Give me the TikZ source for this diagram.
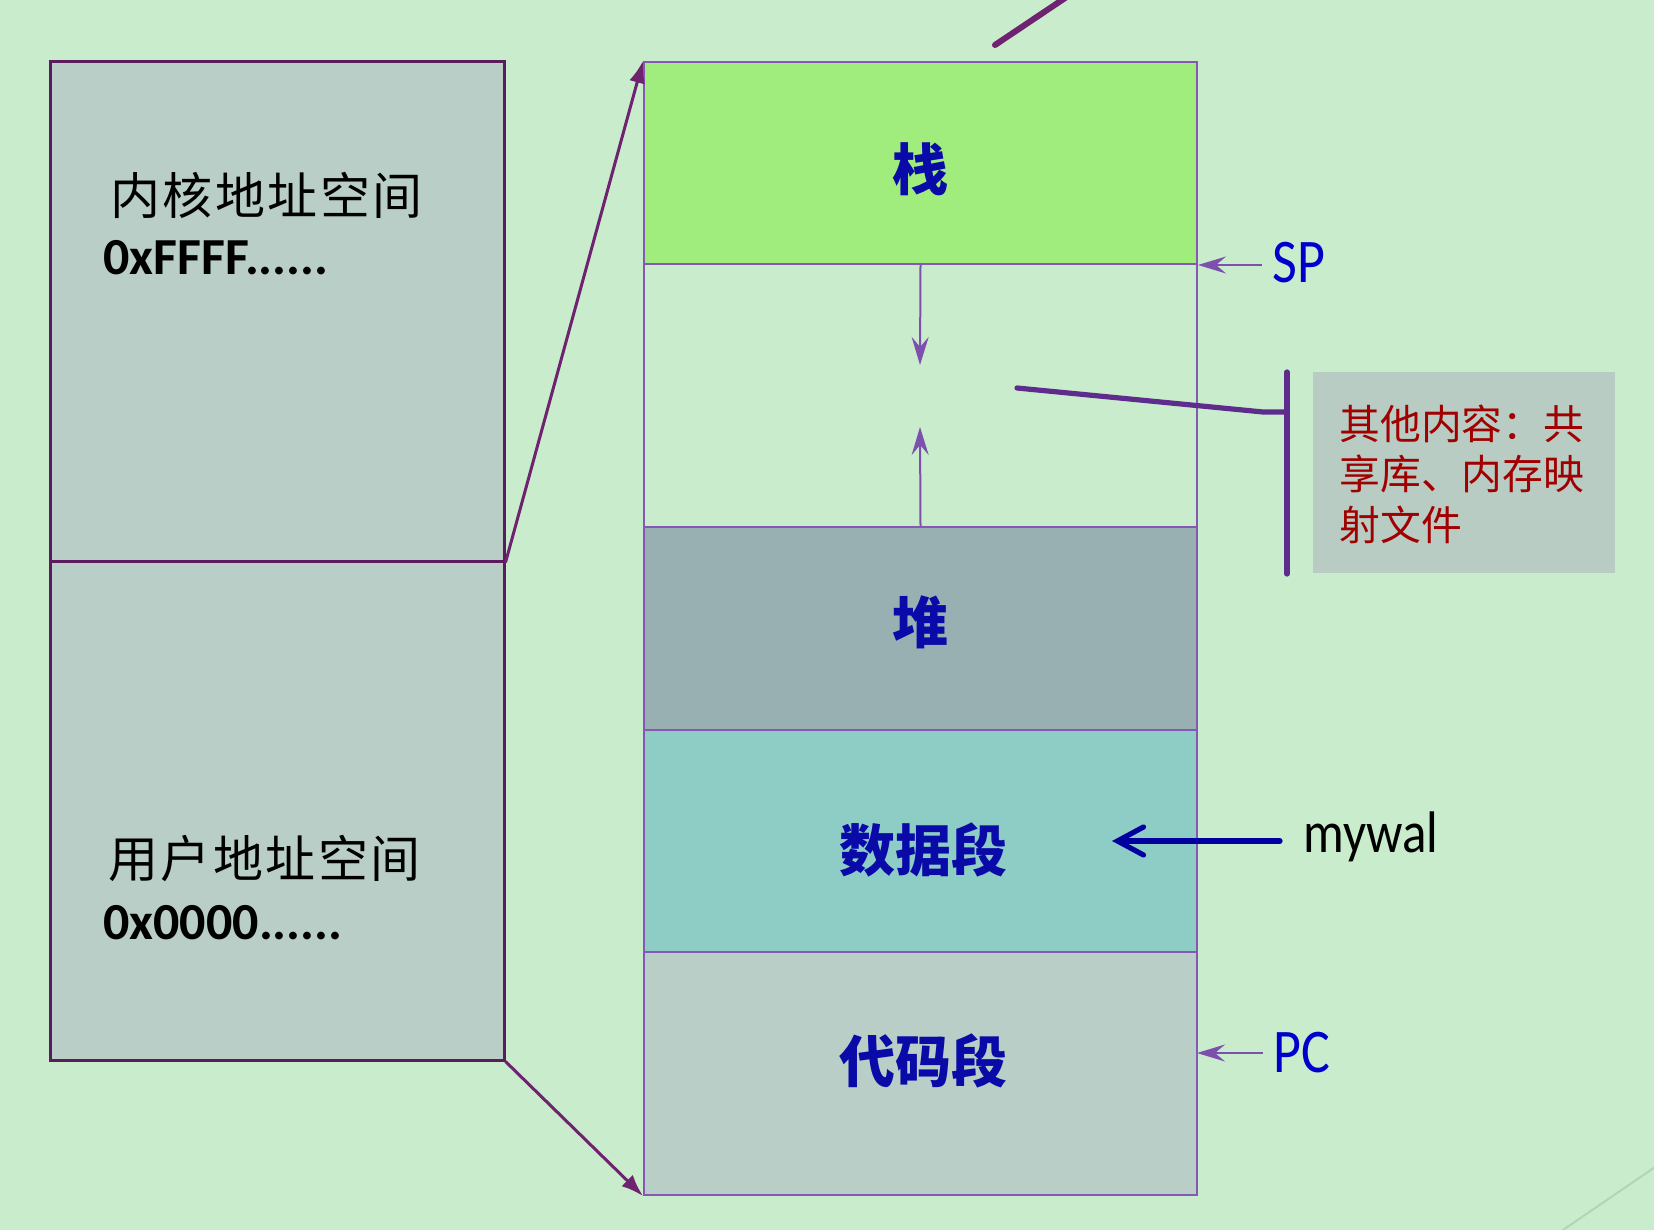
\documentclass[tikz,border=0pt]{standalone}
\usepackage{fontspec}
\setmainfont{Carlito}
\newfontfamily\cjk{Noto Sans CJK SC}
\newfontfamily\cjkwide[LetterSpace=5]{Noto Sans CJK SC}
\usetikzlibrary{arrows.meta,fit}
\definecolor{bg}{HTML}{C8ECCC}
\definecolor{leftfill}{HTML}{B8CEC6}
\definecolor{leftdraw}{HTML}{5A1C5C}
\definecolor{stackc}{HTML}{A0EC7C}
\definecolor{heapc}{HTML}{98B0B2}
\definecolor{datac}{HTML}{8ECCC6}
\definecolor{codec}{HTML}{B8CEC6}
\definecolor{coldraw}{HTML}{8458B4}
\definecolor{smallarr}{HTML}{7E50AE}
\definecolor{thickc}{HTML}{5E2C8C}
\definecolor{connc}{HTML}{6E2270}
\definecolor{segblue}{HTML}{0A0AA8}
\definecolor{regblue}{HTML}{0000CC}
\definecolor{mwblue}{HTML}{0000A0}
\definecolor{redc}{HTML}{A00000}
\definecolor{grayboxc}{HTML}{B8CCC4}
\definecolor{faintc}{HTML}{B0D6B4}
\begin{document}
\begin{tikzpicture}[x=0.5pt,y=-0.5pt,
  lbox/.style={draw=leftdraw,fill=leftfill,line width=1.5pt,inner sep=0pt},
  seg/.style={draw=coldraw,line width=1pt,inner sep=0pt},
  segtxt/.style={font=\cjk\bfseries\fontsize{28}{32}\selectfont,text=segblue,inner sep=0pt},
  lefttxt/.style={font=\cjkwide\fontsize{25}{30}\selectfont,text=black,inner sep=0pt,anchor=west},
  addrtxt/.style={font=\bfseries\fontsize{26}{30}\selectfont,text=black,inner sep=0pt,anchor=west},
  regtxt/.style={font=\fontsize{27}{32}\selectfont,text=regblue,inner sep=0pt,anchor=west},
  smallarrow/.style={draw=smallarr,line width=1pt,-{Stealth[length=14pt,width=8.5pt,inset=5pt]}},
  conn/.style={draw=connc,line width=1.5pt,-{Latex[length=11pt,width=8pt]}},
  thick/.style={draw=thickc,line width=2.6pt,line cap=round,line join=round}]
\fill[bg] (0,0) rectangle (1654,1230);
\useasboundingbox (0,0) rectangle (1654,1230);
\clip (0,0) rectangle (1654,1230);

% decorative lines
\coordinate (t1) at (995,45);
\coordinate (t2) at (1080,-12);
\draw[draw=connc,line width=3pt,line cap=round] (t1) -- (t2);
\coordinate (f1) at (1560,1232);
\coordinate (f2) at (1680,1150);
\draw[draw=faintc,line width=1pt] (f1) -- (f2);

% left box
\node[lbox,fit={(50,62) (504,561)}] (kernel) {};
\node[lbox,fit={(50,561) (504,1060)}] (user) {};
\node[lefttxt] (ktxt) at (110,195) {内核地址空间};
\node[addrtxt] (kaddr) at (103,258) {0xFFFF......};
\node[lefttxt] (utxt) at (108,858) {用户地址空间};
\node[addrtxt] (uaddr) at (103,923) {0x0000......};

% right column
\node[seg,fill=stackc,fit={(644,62) (1197,264)}] (stack) {};
\node[seg,fit={(644,264) (1197,527)}] (free) {};
\node[seg,fill=heapc,fit={(644,527) (1197,730)}] (heap) {};
\node[seg,fill=datac,fit={(644,730) (1197,952)}] (data) {};
\node[seg,fill=codec,fit={(644,952) (1197,1195)}] (code) {};

\node[segtxt] (stacktxt) at (920,169) {栈};
\node[segtxt] (heaptxt) at (920,622) {堆};
\node[segtxt] (datatxt) at (923,850) {数据段};
\node[segtxt] (codetxt) at (923,1061) {代码段};

% connectors from left box to column
\draw[conn] (kernel.south east) -- (stack.north west);
\draw[conn] (user.south east) -- (code.south west);

% growth arrows
\coordinate (dtip) at (920,365);
\coordinate (utip) at (920,427);
\draw[smallarrow] (stack.south) -- (dtip);
\draw[smallarrow] (heap.north) -- (utip);

% SP and PC
\node[regtxt] (sp) at (1272,263) {\scalebox{1}[1.15]{SP}};
\node[regtxt] (pc) at (1273,1053) {\scalebox{1}[1.15]{PC}};
\draw[smallarrow] ([xshift=-5pt]sp.west |- stack.south east) -- (stack.south east);
\coordinate (pcend) at (1197,1053);
\draw[smallarrow] ([xshift=-5pt]pc.west) -- (pcend);

% mywal
\node[font=\fontsize{25.5}{30}\selectfont,text=black,inner sep=0pt,anchor=west] (mywal) at (1303,837) {\scalebox{1}[1.15]{mywal}};
\coordinate (mwstart) at (1280,841);
\coordinate (mwend) at (1112,841);
\draw[draw=mwblue,line width=2.6pt,line cap=round,-{Straight Barb[length=13pt,width=14pt,line cap=round]}] (mwstart) -- (mwend);

% other content box
\node[fill=grayboxc,inner sep=0pt,minimum width=151pt,minimum height=100.5pt,anchor=north west] (other) at (1313,372) {};
\node[text=redc,font=\cjk\fontsize{20.4}{25.3}\selectfont,align=left,text width=124pt,inner sep=0pt,anchor=west] (othertxt) at (1339,474) {其他内容：共\\享库、内存映\\射文件};

\coordinate (bartop) at (1287,372);
\coordinate (barbot) at (1287,574);
\coordinate (bend) at (1263,412);
\coordinate (barmid) at (1287,412);
\coordinate (lstart) at (1017,388);
\draw[thick] (bartop) -- (barbot);
\draw[thick] (lstart) -- (bend) -- (barmid);
\end{tikzpicture}
\end{document}
